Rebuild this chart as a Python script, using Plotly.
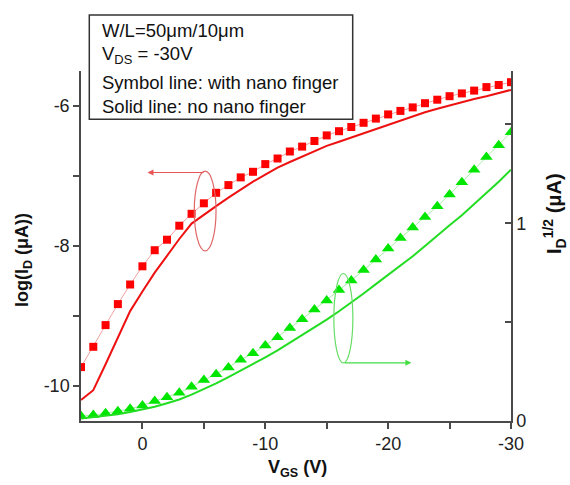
import plotly.graph_objects as go

# ---------------- data ----------------
vgs = [5, 4, 3, 2, 1, 0, -1, -2, -3, -4, -5, -6, -7, -8, -9, -10, -11, -12,
       -13, -14, -15, -16, -17, -18, -19, -20, -21, -22, -23, -24, -25, -26,
       -27, -28, -29, -30]

log_id_finger = [-9.73, -9.44, -9.13, -8.83, -8.55, -8.29, -8.06, -7.91, -7.71,
                 -7.54, -7.39, -7.24, -7.13, -7.02, -6.94, -6.83, -6.75, -6.65,
                 -6.58, -6.50, -6.42, -6.36, -6.30, -6.24, -6.18, -6.12, -6.07,
                 -6.02, -5.96, -5.91, -5.86, -5.82, -5.78, -5.73, -5.70, -5.66]

log_id_plain = [-10.20, -10.06, -9.69, -9.31, -8.93, -8.65, -8.38, -8.14, -7.90,
                -7.68, -7.55, -7.43, -7.31, -7.19, -7.08, -6.98, -6.88, -6.80,
                -6.72, -6.64, -6.57, -6.51, -6.45, -6.39, -6.33, -6.26, -6.20,
                -6.14, -6.09, -6.04, -5.99, -5.95, -5.90, -5.86, -5.81, -5.77]

sqrt_id_finger = [0.025, 0.030, 0.039, 0.049, 0.062, 0.079, 0.101, 0.120, 0.143,
                  0.173, 0.207, 0.237, 0.271, 0.310, 0.342, 0.382, 0.424, 0.470,
                  0.515, 0.564, 0.610, 0.662, 0.711, 0.763, 0.817, 0.872, 0.926,
                  0.978, 1.032, 1.086, 1.146, 1.207, 1.271, 1.335, 1.395, 1.460]

sqrt_id_plain = [0.013, 0.020, 0.026, 0.034, 0.045, 0.058, 0.072, 0.090, 0.109,
                 0.133, 0.160, 0.190, 0.222, 0.254, 0.287, 0.322, 0.357, 0.395,
                 0.433, 0.472, 0.513, 0.555, 0.599, 0.645, 0.692, 0.738, 0.785,
                 0.833, 0.885, 0.940, 0.990, 1.040, 1.095, 1.152, 1.210, 1.271]

x_tickvals = [0, -5, -10, -15, -20, -25, -30]
x_ticktext = ["0", "", "-10", "", "-20", "", "-30"]
y_tickvals = [-10, -9, -8, -7, -6]
y_ticktext = ["-10", "", "-8", "", "-6"]
y2_tickvals = [0, 0.5, 1, 1.5]
y2_ticktext = ["0", "", "1", ""]

box_lines = ["W/L=50μm/10μm",
             "V<sub>DS</sub> = -30V",
             "Symbol line: with nano finger",
             "Solid line: no nano finger"]

FONT = "Liberation Sans, Arial, sans-serif"
AX = "#4a4a4a"

fig = go.Figure()

fig.add_trace(go.Scatter(x=vgs, y=log_id_finger, mode="lines+markers",
                         line=dict(color="#f2a0a0", width=1),
                         marker=dict(symbol="square", size=8, color="#ff0000"),
                         showlegend=False))
fig.add_trace(go.Scatter(x=vgs, y=log_id_plain, mode="lines",
                         line=dict(color="#ee1111", width=2),
                         showlegend=False))
fig.add_trace(go.Scatter(x=vgs, y=sqrt_id_finger, mode="lines+markers", yaxis="y2",
                         line=dict(color="#a8eea8", width=1),
                         marker=dict(symbol="triangle-up", size=11, color="#00e600"),
                         showlegend=False))
fig.add_trace(go.Scatter(x=vgs, y=sqrt_id_plain, mode="lines", yaxis="y2",
                         line=dict(color="#22dd22", width=2),
                         showlegend=False))

axis_common = dict(showline=True, linecolor=AX, linewidth=1.5, showgrid=False,
                   zeroline=False, tickcolor=AX, tickwidth=1.5, ticklen=6,
                   tickmode="array",
                   tickfont=dict(family=FONT, size=18, color="#222222"))

fig.update_layout(
    width=570, height=485,
    margin=dict(l=81, r=59, t=71, b=64),
    paper_bgcolor="white", plot_bgcolor="white",
    xaxis=dict(range=[5, -30], tickvals=x_tickvals, ticktext=x_ticktext,
               ticks="outside", **axis_common),
    yaxis=dict(range=[-10.5, -5.5], tickvals=y_tickvals, ticktext=y_ticktext,
               ticks="outside", **axis_common),
    yaxis2=dict(range=[0, 1.77], overlaying="y", side="right",
                tickvals=y2_tickvals, ticktext=y2_ticktext, ticks="inside",
                **axis_common),
)

# ellipses grouping the curves
fig.add_shape(type="circle", xref="x", yref="y", x0=-4.22, x1=-5.99, y0=-8.07, y1=-6.93,
              line=dict(color="#e06666", width=1.2))
fig.add_shape(type="circle", xref="x", yref="y2", x0=-15.58, x1=-17.13, y0=0.294, y1=0.746,
              line=dict(color="#66dd66", width=1.2))

# arrows pointing to the relevant axis
fig.add_annotation(x=-0.41, y=-6.95, xref="x", yref="y", ax=-5.1, ay=-6.95,
                   axref="x", ayref="y", text="", showarrow=True, arrowhead=2,
                   arrowsize=1, arrowwidth=1.2, arrowcolor="#e85555")
fig.add_annotation(x=-21.89, y=0.294, xref="x", yref="y2", ax=-16.35, ay=0.294,
                   axref="x", ayref="y2", text="", showarrow=True, arrowhead=2,
                   arrowsize=1, arrowwidth=1.2, arrowcolor="#44dd44")

# info box
def px_x(px):
    return (px - 81) / 430

def px_y(py):
    return (421 - py) / 350

fig.add_shape(type="rect", xref="paper", yref="paper",
              x0=px_x(89.3), x1=px_x(352.7), y0=px_y(119.3), y1=px_y(15),
              line=dict(color="#333333", width=1.5), fillcolor="white", layer="above")
for txt, cy in zip(box_lines, [31, 55, 83, 106]):
    fig.add_annotation(x=px_x(100), y=px_y(cy), xref="paper", yref="paper",
                       text=txt, showarrow=False, xanchor="left", yanchor="middle",
                       font=dict(family=FONT, size=18.5, color="#111111"))

# axis titles
fig.add_annotation(x=px_x(23), y=px_y(260), xref="paper", yref="paper",
                   xanchor="center", yanchor="middle",
                   text="<b>log(I<sub>D</sub> (μA))</b>", textangle=-90, showarrow=False,
                   font=dict(family=FONT, size=18, color="#111111"))
fig.add_annotation(x=px_x(554), y=px_y(214), xref="paper", yref="paper",
                   xanchor="center", yanchor="middle",
                   text="<b>I<sub>D</sub><sup>1/2</sup> (μA)</b>", textangle=-90,
                   showarrow=False, font=dict(family=FONT, size=20, color="#111111"))
fig.add_annotation(x=px_x(297), y=px_y(468), xref="paper", yref="paper",
                   xanchor="center", yanchor="middle",
                   text="<b>V<sub>GS</sub> (V)</b>", showarrow=False,
                   font=dict(family=FONT, size=18, color="#111111"))

fig.write_html("out.html", config={"displayModeBar": False},
               post_script="document.body.style.margin='0px';")
